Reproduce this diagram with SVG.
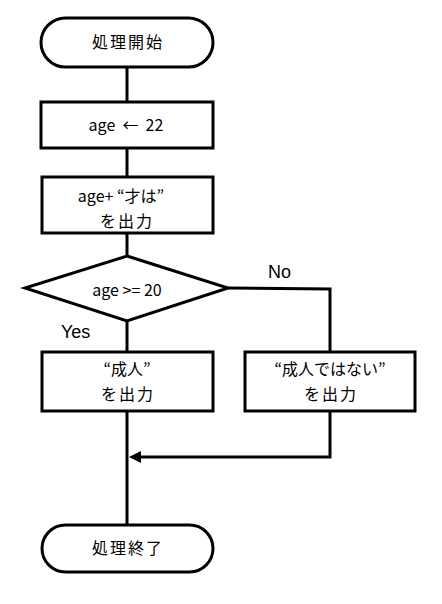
<svg xmlns="http://www.w3.org/2000/svg" width="442" height="604" viewBox="0 0 442 604">
<defs>
<style>
.s{fill:#fff;stroke:#000;stroke-width:3}
.c{fill:none;stroke:#000;stroke-width:3}
.t{font-family:"Noto Sans CJK JP","Noto Sans",sans-serif;font-size:16px;fill:#000;text-anchor:middle;white-space:pre}
.j{letter-spacing:2px}
.l{font-family:"Liberation Sans",Arial,sans-serif;font-size:18px;fill:#000}
</style>
</defs>
<rect width="442" height="604" fill="#fff"/>
<g id="connectors">
<line class="c" x1="127" y1="67" x2="127" y2="102"/>
<line class="c" x1="127" y1="148" x2="127" y2="177"/>
<line class="c" x1="127" y1="233" x2="127" y2="256"/>
<line class="c" x1="127" y1="321" x2="127" y2="352"/>
<polyline class="c" points="228,288 330,289 330,352"/>
<line class="c" x1="127" y1="411" x2="127" y2="525"/>
<polyline class="c" points="330,411 330,457 138,457"/>
<path d="M129,457 L141,451 L141,463 Z" fill="#000"/>
<text class="l" x="268" y="278">No</text>
<text class="l" x="61" y="338">Yes</text>
</g>
<g id="start">
<rect class="s" x="41" y="18" width="172" height="49" rx="24.5"/>
<text class="t j" x="128" y="48" font-size="17">処理開始</text>
</g>
<g id="assign">
<rect class="s" x="41" y="102" width="172" height="46"/>
<text class="t" x="126" y="131">age  ←  22</text>
</g>
<g id="output1">
<rect class="s" x="42" y="177" width="171" height="56"/>
<text class="t" x="121" y="202">age+ “才は”</text>
<text class="t j" x="127" y="227">を出力</text>
</g>
<g id="decision">
<polygon class="s" points="127,256 228,288 127,321 25,288"/>
<text class="t" x="127" y="296">age &gt;= 20</text>
</g>
<g id="adult">
<rect class="s" x="42" y="352" width="171" height="59"/>
<text class="t" x="127" y="375">“成人”</text>
<text class="t j" x="128" y="400">を出力</text>
</g>
<g id="notadult">
<rect class="s" x="245" y="352" width="170" height="59"/>
<text class="t" x="330" y="375">“成人ではない”</text>
<text class="t j" x="331" y="400">を出力</text>
</g>
<g id="end">
<rect class="s" x="42" y="525" width="171" height="47" rx="23.5"/>
<text class="t j" x="128" y="554" font-size="17">処理終了</text>
</g>
</svg>
